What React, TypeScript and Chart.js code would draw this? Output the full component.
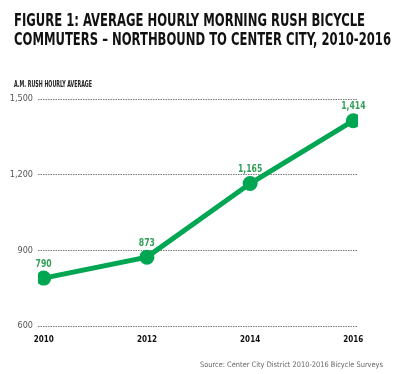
import React, { useEffect, useRef } from 'react';
import { Chart, registerables } from 'chart.js';

Chart.register(...registerables);

const TITLE_LINES = [
  'FIGURE 1: AVERAGE HOURLY MORNING RUSH BICYCLE',
  'COMMUTERS – NORTHBOUND TO CENTER CITY, 2010-2016',
];
const Y_AXIS_TITLE = 'A.M. RUSH HOURLY AVERAGE';
const SOURCE = 'Source: Center City District 2010-2016 Bicycle Surveys';
const YEARS = [2010, 2012, 2014, 2016];
const COMMUTERS = [790, 873, 1165, 1414];
const Y_TICKS = [600, 900, 1200, 1500];

const COND = "'Liberation Sans Narrow', 'DejaVu Sans Condensed', 'Roboto', sans-serif";
const GREEN = '#00a651';
const LABEL_GREEN = '#35a05a';

function scaledText(
  ctx: CanvasRenderingContext2D,
  text: string,
  x: number,
  y: number,
  font: string,
  sx: number,
  color: string,
  align: 'left' | 'center' | 'right' = 'left'
) {
  ctx.save();
  ctx.font = font;
  ctx.fillStyle = color;
  ctx.textBaseline = 'alphabetic';
  ctx.textAlign = 'left';
  const w = ctx.measureText(text).width;
  ctx.translate(x, y);
  ctx.scale(sx, 1);
  const off = align === 'left' ? 0 : align === 'right' ? -w : -w / 2;
  ctx.fillText(text, off, 0);
  ctx.restore();
}

function fitText(
  ctx: CanvasRenderingContext2D,
  text: string,
  x: number,
  y: number,
  font: string,
  width: number,
  color: string,
  align: 'left' | 'center' | 'right' = 'left'
) {
  ctx.save();
  ctx.font = font;
  const w = ctx.measureText(text).width;
  ctx.restore();
  scaledText(ctx, text, x, y, font, width / w, color, align);
}

const decorPlugin = {
  id: 'decor',
  beforeDraw(chart: any) {
    const ctx = chart.ctx as CanvasRenderingContext2D;
    ctx.save();
    ctx.fillStyle = '#ffffff';
    ctx.fillRect(0, 0, chart.width, chart.height);
    ctx.restore();
  },
  afterDraw(chart: any) {
    const ctx = chart.ctx as CanvasRenderingContext2D;
    fitText(ctx, TITLE_LINES[0], 14, 25.5, `bold 17.5px ${COND}`, 351, '#111111');
    fitText(ctx, TITLE_LINES[1], 14, 45, `bold 17.5px ${COND}`, 377, '#111111');
    fitText(ctx, Y_AXIS_TITLE, 14, 87, `bold 8px ${COND}`, 78, '#222222');
    fitText(ctx, SOURCE, 383, 367, `7.5px ${COND}`, 183, '#666666', 'right');
    // data labels
    const meta = chart.getDatasetMeta(0);
    meta.data.forEach((pt: any, i: number) => {
      const txt = COMMUTERS[i].toLocaleString('en-US');
      scaledText(ctx, txt, pt.x, pt.y - 11.5, `bold 11px ${COND}`, 0.78, LABEL_GREEN, 'center');
    });
  },
};

export default function App() {
  const ref = useRef<HTMLCanvasElement | null>(null);
  useEffect(() => {
    document.body.style.margin = '0';
    const canvas = ref.current!;
    const chart = new Chart(canvas, {
      type: 'line',
      data: {
        datasets: [
          {
            data: YEARS.map((y, i) => ({ x: y, y: COMMUTERS[i] })),
            borderColor: GREEN,
            backgroundColor: GREEN,
            borderWidth: 5,
            pointRadius: 7.5,
            pointHoverRadius: 7.5,
            pointBackgroundColor: GREEN,
            pointBorderWidth: 0,
            tension: 0,
          },
        ],
      },
      options: {
        animation: false,
        responsive: false,
        events: [],
        layout: { padding: { left: 0, right: 47, top: 99, bottom: 28 } },
        plugins: {
          legend: { display: false },
          tooltip: { enabled: false },
          title: { display: false },
        },
        scales: {
          x: {
            type: 'linear',
            min: 2009.89,
            max: 2016.09,
            afterBuildTicks: (s: any) => {
              s.ticks = YEARS.map((v) => ({ value: v }));
            },
            afterFit: (s: any) => {
              s.height = 20;
            },
            grid: { display: false, drawTicks: false },
            border: { display: false },
            ticks: {
              padding: 9,
              color: '#111111',
              font: { family: COND, size: 8, weight: 'bold' },
              callback: (v: any) => String(v),
              maxRotation: 0,
            },
          },
          y: {
            min: 600,
            max: 1500,
            afterBuildTicks: (s: any) => {
              s.ticks = Y_TICKS.map((v) => ({ value: v }));
            },
            afterFit: (s: any) => {
              s.width = 38;
            },
            grid: {
              color: '#7a7a7a',
              lineWidth: 1,
              drawTicks: false,
            },
            border: { display: false, dash: [1.5, 1] },
            ticks: {
              padding: 5,
              color: '#555555',
              font: { family: COND, size: 9 },
              callback: (v: any) => Number(v).toLocaleString('en-US'),
            },
          },
        },
      } as any,
      plugins: [decorPlugin],
    });
    return () => chart.destroy();
  }, []);
  return (
    <div style={{ position: 'absolute', left: 0, top: 0, width: 405, height: 374 }}>
      <canvas ref={ref} width={405} height={374} style={{ display: 'block' }} />
    </div>
  );
}
